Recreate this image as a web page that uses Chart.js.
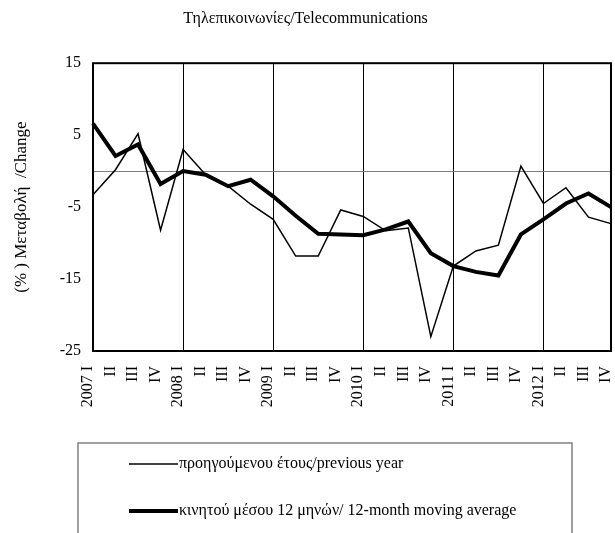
<!DOCTYPE html>
<html>
<head>
<meta charset="utf-8">
<script src="https://cdn.jsdelivr.net/npm/chart.js@4"></script>
<style>
    html, body { margin: 0; padding: 0; background: #ffffff; }
    #wrap { width: 615px; height: 533px; }
</style>
</head>
<body>
<div id="wrap"><canvas id="telecomChart" width="615" height="533"></canvas></div>
<script>
const quarters = [
    '2007 I', 'II', 'III', 'IV',
    '2008 I', 'II', 'III', 'IV',
    '2009 I', 'II', 'III', 'IV',
    '2010 I', 'II', 'III', 'IV',
    '2011 I', 'II', 'III', 'IV',
    '2012 I', 'II', 'III', 'IV'
];
const previousYear = [-3.3, 0.2, 5.2, -8.2, 3.0, -0.5, -2.1, -4.6, -6.7, -11.8, -11.8, -5.4,
    -6.3, -8.3, -7.9, -23.0, -13.2, -11.1, -10.3, 0.7, -4.5, -2.3, -6.4, -7.3];
const movingAverage = [6.6, 2.1, 3.7, -1.8, 0.0, -0.5, -2.1, -1.2, -3.5, -6.2, -8.7, -8.8,
    -8.9, -8.1, -7.0, -11.4, -13.2, -14.0, -14.5, -8.8, -6.7, -4.5, -3.1, -5.0];
const yTickLabels = [-25, -15, -5, 5, 15];
const seriesNames = ['προηγούμενου έτους/previous year', 'κινητού μέσου 12 μηνών/ 12-month moving average'];

Chart.defaults.font.family = "'Liberation Serif', 'DejaVu Serif', serif";
Chart.defaults.color = '#000000';

// frame around the plot area
const framePlugin = {
    id: 'frame',
    afterDraw(chart) {
        const { ctx, chartArea: a } = chart;
        ctx.save();
        ctx.strokeStyle = '#000000';
        ctx.lineWidth = 2;
        ctx.strokeRect(a.left, a.top, a.right - a.left, a.bottom - a.top);
        ctx.restore();
    }
};

// boxed legend under the chart
const boxLegendPlugin = {
    id: 'boxLegend',
    afterDraw(chart) {
        const ctx = chart.ctx;
        ctx.save();
        ctx.strokeStyle = '#808080';
        ctx.lineWidth = 1.5;
        ctx.beginPath();
        ctx.moveTo(78, 540);
        ctx.lineTo(78, 443);
        ctx.lineTo(572, 443);
        ctx.lineTo(572, 540);
        ctx.stroke();

        const rows = [464, 511];
        chart.data.datasets.forEach((ds, i) => {
            ctx.strokeStyle = ds.borderColor;
            ctx.lineWidth = ds.borderWidth;
            ctx.beginPath();
            ctx.moveTo(129, rows[i]);
            ctx.lineTo(178, rows[i]);
            ctx.stroke();
            ctx.fillStyle = '#000000';
            ctx.font = "16px 'Liberation Serif', serif";
            ctx.textBaseline = 'middle';
            ctx.fillText(ds.label, 179, rows[i]);
        });
        ctx.restore();
    }
};

new Chart(document.getElementById('telecomChart'), {
    type: 'line',
    data: {
        labels: quarters,
        datasets: [{
            label: seriesNames[0],
            data: previousYear,
            borderColor: '#000000',
            borderWidth: 1.5,
            pointRadius: 0,
            tension: 0
        }, {
            label: seriesNames[1],
            data: movingAverage,
            borderColor: '#000000',
            borderWidth: 4,
            pointRadius: 0,
            tension: 0
        }]
    },
    options: {
        responsive: false,
        animation: false,
        layout: {
            padding: { left: 0, right: 4, top: 0, bottom: 100 }
        },
        plugins: {
            legend: { display: false },
            tooltip: { enabled: false },
            title: {
                display: true,
                text: 'Τηλεπικοινωνίες/Telecommunications',
                font: { size: 16, weight: 'normal' },
                color: '#000000',
                padding: { top: 9, bottom: 35 }
            }
        },
        scales: {
            x: {
                offset: false,
                afterFit: (scale) => {
                    scale.height = 82;
                    scale.paddingLeft = 0;
                    scale.paddingRight = 0;
                },
                grid: {
                    drawTicks: false,
                    color: (c) => (c.index > 0 && c.index % 4 === 0) ? '#000000' : 'rgba(0,0,0,0)',
                    lineWidth: 1
                },
                border: { display: false },
                ticks: {
                    autoSkip: false,
                    minRotation: 90,
                    maxRotation: 90,
                    padding: 15,
                    labelOffset: -5,
                    font: { size: 16 },
                    color: '#000000'
                }
            },
            y: {
                min: -25,
                max: 15,
                afterFit: (scale) => { scale.width = 93; },
                grid: {
                    drawTicks: false,
                    color: (c) => (c.tick && c.tick.value === 0) ? '#808080' : 'rgba(0,0,0,0)',
                    lineWidth: 1
                },
                border: { display: false },
                ticks: {
                    stepSize: 5,
                    padding: 12,
                    font: { size: 16 },
                    color: '#000000',
                    callback: (v) => yTickLabels.includes(v) ? String(v) : ''
                },
                title: {
                    display: true,
                    text: '(% ) Μεταβολή  /Change',
                    font: { size: 17 },
                    color: '#000000',
                    padding: { top: 11, bottom: 0 }
                }
            }
        }
    },
    plugins: [framePlugin, boxLegendPlugin]
});
</script>
</body>
</html>
